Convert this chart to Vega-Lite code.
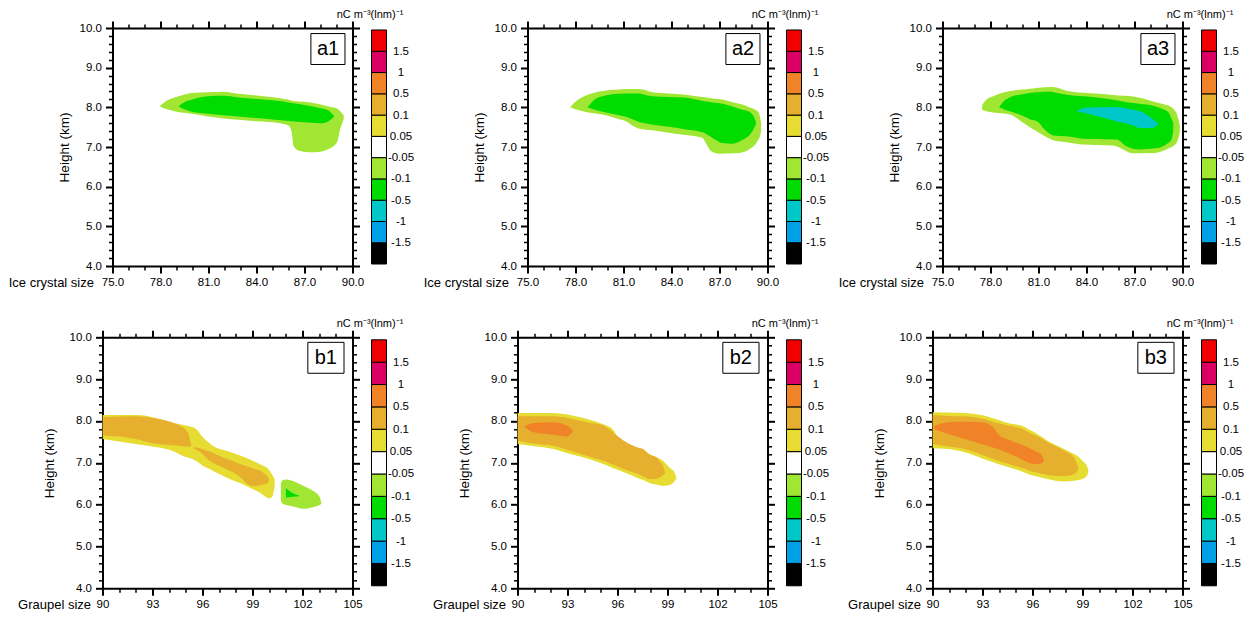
{
"$schema": "https://vega.github.io/schema/vega-lite/v6.json",
"background": "white",
"padding": {"left": 7.5, "top": 9, "right": 5, "bottom": 5},
"bounds": "flush",
"columns": 8,
"align": "each",
"spacing": {"row": 71.3, "column": 19},
"config": {
 "view": {"stroke": null},
 "font": "Liberation Sans",
 "axis": {"grid": false, "labelFont": "Liberation Sans", "titleFont": "Liberation Sans", "labelColor": "black", "titleColor": "black", "tickColor": "black", "domainColor": "black", "labelFontSize": 11.5, "titleFontSize": 13, "titleFontWeight": "normal", "labelFlush": false, "labelOverlap": false, "zindex": 1, "domainWidth": 2, "tickWidth": 2, "domainCap": "square"}
},
"datasets": {
 "bar": [
  {"c": "<-1.5", "lo": 0, "hi": 1},
  {"c": "-1.5~-1", "lo": 1, "hi": 2},
  {"c": "-1~-0.5", "lo": 2, "hi": 3},
  {"c": "-0.5~-0.1", "lo": 3, "hi": 4},
  {"c": "-0.1~-0.05", "lo": 4, "hi": 5},
  {"c": "-0.05~0.05", "lo": 5, "hi": 6},
  {"c": "0.05~0.1", "lo": 6, "hi": 7},
  {"c": "0.1~0.5", "lo": 7, "hi": 8},
  {"c": "0.5~1", "lo": 8, "hi": 9},
  {"c": "1~1.5", "lo": 9, "hi": 10},
  {"c": ">1.5", "lo": 10, "hi": 11}
 ],
 "ct": [
  {"p":"a1","r":1,"d":1,"c":"-0.1~-0.05","x":77.95,"lo":8.02,"hi":8.02},
  {"p":"a1","r":1,"d":1,"c":"-0.1~-0.05","x":78.4,"lo":7.95,"hi":8.17},
  {"p":"a1","r":1,"d":1,"c":"-0.1~-0.05","x":78.88,"lo":7.9,"hi":8.25},
  {"p":"a1","r":1,"d":1,"c":"-0.1~-0.05","x":79.3,"lo":7.87,"hi":8.3},
  {"p":"a1","r":1,"d":1,"c":"-0.1~-0.05","x":79.93,"lo":7.84,"hi":8.36},
  {"p":"a1","r":1,"d":1,"c":"-0.1~-0.05","x":81.0,"lo":7.77,"hi":8.38},
  {"p":"a1","r":1,"d":1,"c":"-0.1~-0.05","x":81.92,"lo":7.72,"hi":8.39},
  {"p":"a1","r":1,"d":1,"c":"-0.1~-0.05","x":82.86,"lo":7.69,"hi":8.34},
  {"p":"a1","r":1,"d":1,"c":"-0.1~-0.05","x":84.0,"lo":7.65,"hi":8.3},
  {"p":"a1","r":1,"d":1,"c":"-0.1~-0.05","x":85.15,"lo":7.62,"hi":8.25},
  {"p":"a1","r":1,"d":1,"c":"-0.1~-0.05","x":86.0,"lo":7.54,"hi":8.19},
  {"p":"a1","r":1,"d":1,"c":"-0.1~-0.05","x":86.2,"lo":7.37,"hi":8.17},
  {"p":"a1","r":1,"d":1,"c":"-0.1~-0.05","x":86.31,"lo":7.03,"hi":8.16},
  {"p":"a1","r":1,"d":1,"c":"-0.1~-0.05","x":86.62,"lo":6.91,"hi":8.15},
  {"p":"a1","r":1,"d":1,"c":"-0.1~-0.05","x":87.25,"lo":6.87,"hi":8.13},
  {"p":"a1","r":1,"d":1,"c":"-0.1~-0.05","x":87.66,"lo":6.87,"hi":8.1},
  {"p":"a1","r":1,"d":1,"c":"-0.1~-0.05","x":88.5,"lo":6.95,"hi":8.02},
  {"p":"a1","r":1,"d":1,"c":"-0.1~-0.05","x":89.03,"lo":7.12,"hi":7.97},
  {"p":"a1","r":1,"d":1,"c":"-0.1~-0.05","x":89.23,"lo":7.45,"hi":7.9},
  {"p":"a1","r":1,"d":1,"c":"-0.1~-0.05","x":89.45,"lo":7.7,"hi":7.8},
  {"p":"a1","r":2,"d":2,"c":"-0.5~-0.1","x":79.13,"lo":8.03,"hi":8.03},
  {"p":"a1","r":2,"d":2,"c":"-0.5~-0.1","x":79.5,"lo":7.95,"hi":8.13},
  {"p":"a1","r":2,"d":2,"c":"-0.5~-0.1","x":79.93,"lo":7.89,"hi":8.19},
  {"p":"a1","r":2,"d":2,"c":"-0.5~-0.1","x":80.97,"lo":7.84,"hi":8.28},
  {"p":"a1","r":2,"d":2,"c":"-0.5~-0.1","x":81.92,"lo":7.8,"hi":8.29},
  {"p":"a1","r":2,"d":2,"c":"-0.5~-0.1","x":82.86,"lo":7.77,"hi":8.25},
  {"p":"a1","r":2,"d":2,"c":"-0.5~-0.1","x":84.0,"lo":7.73,"hi":8.21},
  {"p":"a1","r":2,"d":2,"c":"-0.5~-0.1","x":85.15,"lo":7.69,"hi":8.17},
  {"p":"a1","r":2,"d":2,"c":"-0.5~-0.1","x":86.2,"lo":7.65,"hi":8.11},
  {"p":"a1","r":2,"d":2,"c":"-0.5~-0.1","x":87.25,"lo":7.62,"hi":8.04},
  {"p":"a1","r":2,"d":2,"c":"-0.5~-0.1","x":88.09,"lo":7.6,"hi":7.97},
  {"p":"a1","r":2,"d":2,"c":"-0.5~-0.1","x":88.5,"lo":7.65,"hi":7.92},
  {"p":"a1","r":2,"d":2,"c":"-0.5~-0.1","x":88.71,"lo":7.71,"hi":7.84},
  {"p":"a1","r":2,"d":2,"c":"-0.5~-0.1","x":88.85,"lo":7.76,"hi":7.79},
  {"p":"a2","r":1,"d":1,"c":"-0.1~-0.05","x":77.67,"lo":8.0,"hi":8.0},
  {"p":"a2","r":1,"d":1,"c":"-0.1~-0.05","x":78.0,"lo":7.95,"hi":8.14},
  {"p":"a2","r":1,"d":1,"c":"-0.1~-0.05","x":78.44,"lo":7.9,"hi":8.26},
  {"p":"a2","r":1,"d":1,"c":"-0.1~-0.05","x":79.0,"lo":7.86,"hi":8.35},
  {"p":"a2","r":1,"d":1,"c":"-0.1~-0.05","x":79.69,"lo":7.82,"hi":8.41},
  {"p":"a2","r":1,"d":1,"c":"-0.1~-0.05","x":80.73,"lo":7.7,"hi":8.45},
  {"p":"a2","r":1,"d":1,"c":"-0.1~-0.05","x":81.15,"lo":7.65,"hi":8.46},
  {"p":"a2","r":1,"d":1,"c":"-0.1~-0.05","x":81.6,"lo":7.53,"hi":8.46},
  {"p":"a2","r":1,"d":1,"c":"-0.1~-0.05","x":81.98,"lo":7.46,"hi":8.46},
  {"p":"a2","r":1,"d":1,"c":"-0.1~-0.05","x":82.81,"lo":7.42,"hi":8.38},
  {"p":"a2","r":1,"d":1,"c":"-0.1~-0.05","x":83.85,"lo":7.36,"hi":8.35},
  {"p":"a2","r":1,"d":1,"c":"-0.1~-0.05","x":84.9,"lo":7.3,"hi":8.32},
  {"p":"a2","r":1,"d":1,"c":"-0.1~-0.05","x":85.94,"lo":7.23,"hi":8.26},
  {"p":"a2","r":1,"d":1,"c":"-0.1~-0.05","x":86.15,"lo":7.1,"hi":8.25},
  {"p":"a2","r":1,"d":1,"c":"-0.1~-0.05","x":86.46,"lo":6.9,"hi":8.23},
  {"p":"a2","r":1,"d":1,"c":"-0.1~-0.05","x":86.98,"lo":6.83,"hi":8.21},
  {"p":"a2","r":1,"d":1,"c":"-0.1~-0.05","x":88.02,"lo":6.84,"hi":8.11},
  {"p":"a2","r":1,"d":1,"c":"-0.1~-0.05","x":88.44,"lo":6.87,"hi":8.07},
  {"p":"a2","r":1,"d":1,"c":"-0.1~-0.05","x":88.85,"lo":6.94,"hi":8.0},
  {"p":"a2","r":1,"d":1,"c":"-0.1~-0.05","x":89.38,"lo":7.15,"hi":7.9},
  {"p":"a2","r":1,"d":1,"c":"-0.1~-0.05","x":89.55,"lo":7.3,"hi":7.72},
  {"p":"a2","r":1,"d":1,"c":"-0.1~-0.05","x":89.6,"lo":7.4,"hi":7.6},
  {"p":"a2","r":2,"d":2,"c":"-0.5~-0.1","x":78.75,"lo":8.0,"hi":8.0},
  {"p":"a2","r":2,"d":2,"c":"-0.5~-0.1","x":79.2,"lo":7.94,"hi":8.2},
  {"p":"a2","r":2,"d":2,"c":"-0.5~-0.1","x":79.69,"lo":7.89,"hi":8.28},
  {"p":"a2","r":2,"d":2,"c":"-0.5~-0.1","x":80.73,"lo":7.8,"hi":8.34},
  {"p":"a2","r":2,"d":2,"c":"-0.5~-0.1","x":81.15,"lo":7.76,"hi":8.35},
  {"p":"a2","r":2,"d":2,"c":"-0.5~-0.1","x":81.98,"lo":7.63,"hi":8.35},
  {"p":"a2","r":2,"d":2,"c":"-0.5~-0.1","x":82.19,"lo":7.61,"hi":8.33},
  {"p":"a2","r":2,"d":2,"c":"-0.5~-0.1","x":82.81,"lo":7.56,"hi":8.28},
  {"p":"a2","r":2,"d":2,"c":"-0.5~-0.1","x":83.85,"lo":7.51,"hi":8.26},
  {"p":"a2","r":2,"d":2,"c":"-0.5~-0.1","x":84.9,"lo":7.44,"hi":8.24},
  {"p":"a2","r":2,"d":2,"c":"-0.5~-0.1","x":85.94,"lo":7.37,"hi":8.16},
  {"p":"a2","r":2,"d":2,"c":"-0.5~-0.1","x":86.56,"lo":7.23,"hi":8.12},
  {"p":"a2","r":2,"d":2,"c":"-0.5~-0.1","x":87.19,"lo":7.1,"hi":8.09},
  {"p":"a2","r":2,"d":2,"c":"-0.5~-0.1","x":87.81,"lo":7.08,"hi":8.02},
  {"p":"a2","r":2,"d":2,"c":"-0.5~-0.1","x":88.44,"lo":7.18,"hi":7.94},
  {"p":"a2","r":2,"d":2,"c":"-0.5~-0.1","x":88.65,"lo":7.23,"hi":7.92},
  {"p":"a2","r":2,"d":2,"c":"-0.5~-0.1","x":89.06,"lo":7.4,"hi":7.82},
  {"p":"a2","r":2,"d":2,"c":"-0.5~-0.1","x":89.27,"lo":7.57,"hi":7.65},
  {"p":"a3","r":1,"d":1,"c":"-0.1~-0.05","x":77.48,"lo":7.93,"hi":8.06},
  {"p":"a3","r":1,"d":1,"c":"-0.1~-0.05","x":77.75,"lo":7.9,"hi":8.2},
  {"p":"a3","r":1,"d":1,"c":"-0.1~-0.05","x":78.17,"lo":7.87,"hi":8.28},
  {"p":"a3","r":1,"d":1,"c":"-0.1~-0.05","x":79.21,"lo":7.82,"hi":8.41},
  {"p":"a3","r":1,"d":1,"c":"-0.1~-0.05","x":80.04,"lo":7.61,"hi":8.45},
  {"p":"a3","r":1,"d":1,"c":"-0.1~-0.05","x":80.46,"lo":7.5,"hi":8.47},
  {"p":"a3","r":1,"d":1,"c":"-0.1~-0.05","x":80.88,"lo":7.4,"hi":8.49},
  {"p":"a3","r":1,"d":1,"c":"-0.1~-0.05","x":81.81,"lo":7.19,"hi":8.51},
  {"p":"a3","r":1,"d":1,"c":"-0.1~-0.05","x":81.92,"lo":7.17,"hi":8.51},
  {"p":"a3","r":1,"d":1,"c":"-0.1~-0.05","x":82.75,"lo":7.12,"hi":8.42},
  {"p":"a3","r":1,"d":1,"c":"-0.1~-0.05","x":83.79,"lo":7.06,"hi":8.37},
  {"p":"a3","r":1,"d":1,"c":"-0.1~-0.05","x":84.63,"lo":7.05,"hi":8.35},
  {"p":"a3","r":1,"d":1,"c":"-0.1~-0.05","x":85.67,"lo":7.04,"hi":8.31},
  {"p":"a3","r":1,"d":1,"c":"-0.1~-0.05","x":86.29,"lo":6.94,"hi":8.29},
  {"p":"a3","r":1,"d":1,"c":"-0.1~-0.05","x":86.92,"lo":6.84,"hi":8.27},
  {"p":"a3","r":1,"d":1,"c":"-0.1~-0.05","x":88.17,"lo":6.85,"hi":8.15},
  {"p":"a3","r":1,"d":1,"c":"-0.1~-0.05","x":89.0,"lo":6.94,"hi":8.06},
  {"p":"a3","r":1,"d":1,"c":"-0.1~-0.05","x":89.21,"lo":6.98,"hi":8.03},
  {"p":"a3","r":1,"d":1,"c":"-0.1~-0.05","x":89.63,"lo":7.11,"hi":7.85},
  {"p":"a3","r":1,"d":1,"c":"-0.1~-0.05","x":89.83,"lo":7.36,"hi":7.55},
  {"p":"a3","r":2,"d":2,"c":"-0.5~-0.1","x":78.54,"lo":8.0,"hi":8.0},
  {"p":"a3","r":2,"d":2,"c":"-0.5~-0.1","x":78.9,"lo":7.94,"hi":8.18},
  {"p":"a3","r":2,"d":2,"c":"-0.5~-0.1","x":79.21,"lo":7.9,"hi":8.25},
  {"p":"a3","r":2,"d":2,"c":"-0.5~-0.1","x":80.04,"lo":7.78,"hi":8.33},
  {"p":"a3","r":2,"d":2,"c":"-0.5~-0.1","x":80.46,"lo":7.7,"hi":8.36},
  {"p":"a3","r":2,"d":2,"c":"-0.5~-0.1","x":80.98,"lo":7.63,"hi":8.38},
  {"p":"a3","r":2,"d":2,"c":"-0.5~-0.1","x":81.29,"lo":7.48,"hi":8.39},
  {"p":"a3","r":2,"d":2,"c":"-0.5~-0.1","x":81.81,"lo":7.31,"hi":8.39},
  {"p":"a3","r":2,"d":2,"c":"-0.5~-0.1","x":81.92,"lo":7.29,"hi":8.38},
  {"p":"a3","r":2,"d":2,"c":"-0.5~-0.1","x":82.75,"lo":7.27,"hi":8.32},
  {"p":"a3","r":2,"d":2,"c":"-0.5~-0.1","x":83.79,"lo":7.21,"hi":8.28},
  {"p":"a3","r":2,"d":2,"c":"-0.5~-0.1","x":84.63,"lo":7.2,"hi":8.25},
  {"p":"a3","r":2,"d":2,"c":"-0.5~-0.1","x":85.88,"lo":7.19,"hi":8.18},
  {"p":"a3","r":2,"d":2,"c":"-0.5~-0.1","x":86.5,"lo":7.02,"hi":8.13},
  {"p":"a3","r":2,"d":2,"c":"-0.5~-0.1","x":87.33,"lo":6.94,"hi":8.09},
  {"p":"a3","r":2,"d":2,"c":"-0.5~-0.1","x":88.17,"lo":6.96,"hi":8.04},
  {"p":"a3","r":2,"d":2,"c":"-0.5~-0.1","x":88.79,"lo":7.02,"hi":7.95},
  {"p":"a3","r":2,"d":2,"c":"-0.5~-0.1","x":89.1,"lo":7.1,"hi":7.88},
  {"p":"a3","r":2,"d":2,"c":"-0.5~-0.1","x":89.31,"lo":7.19,"hi":7.72},
  {"p":"a3","r":2,"d":2,"c":"-0.5~-0.1","x":89.42,"lo":7.4,"hi":7.61},
  {"p":"a3","r":3,"d":3,"c":"-1~-0.5","x":83.38,"lo":7.89,"hi":7.89},
  {"p":"a3","r":3,"d":3,"c":"-1~-0.5","x":83.9,"lo":7.86,"hi":7.99},
  {"p":"a3","r":3,"d":3,"c":"-1~-0.5","x":84.83,"lo":7.76,"hi":8.0},
  {"p":"a3","r":3,"d":3,"c":"-1~-0.5","x":85.67,"lo":7.67,"hi":8.01},
  {"p":"a3","r":3,"d":3,"c":"-1~-0.5","x":86.29,"lo":7.61,"hi":7.99},
  {"p":"a3","r":3,"d":3,"c":"-1~-0.5","x":86.92,"lo":7.54,"hi":7.94},
  {"p":"a3","r":3,"d":3,"c":"-1~-0.5","x":87.33,"lo":7.48,"hi":7.9},
  {"p":"a3","r":3,"d":3,"c":"-1~-0.5","x":87.75,"lo":7.48,"hi":7.82},
  {"p":"a3","r":3,"d":3,"c":"-1~-0.5","x":88.06,"lo":7.48,"hi":7.73},
  {"p":"a3","r":3,"d":3,"c":"-1~-0.5","x":88.48,"lo":7.57,"hi":7.59},
  {"p":"b1","r":1,"d":1,"c":"0.05~0.1","x":90.0,"lo":7.57,"hi":8.14},
  {"p":"b1","r":1,"d":1,"c":"0.05~0.1","x":92.0,"lo":7.45,"hi":8.14},
  {"p":"b1","r":1,"d":1,"c":"0.05~0.1","x":93.0,"lo":7.39,"hi":8.09},
  {"p":"b1","r":1,"d":1,"c":"0.05~0.1","x":94.01,"lo":7.31,"hi":7.97},
  {"p":"b1","r":1,"d":1,"c":"0.05~0.1","x":94.81,"lo":7.17,"hi":7.91},
  {"p":"b1","r":1,"d":1,"c":"0.05~0.1","x":95.01,"lo":7.14,"hi":7.89},
  {"p":"b1","r":1,"d":1,"c":"0.05~0.1","x":95.61,"lo":7.05,"hi":7.81},
  {"p":"b1","r":1,"d":1,"c":"0.05~0.1","x":96.02,"lo":6.93,"hi":7.61},
  {"p":"b1","r":1,"d":1,"c":"0.05~0.1","x":96.42,"lo":6.85,"hi":7.47},
  {"p":"b1","r":1,"d":1,"c":"0.05~0.1","x":96.62,"lo":6.81,"hi":7.41},
  {"p":"b1","r":1,"d":1,"c":"0.05~0.1","x":97.22,"lo":6.69,"hi":7.31},
  {"p":"b1","r":1,"d":1,"c":"0.05~0.1","x":97.42,"lo":6.65,"hi":7.29},
  {"p":"b1","r":1,"d":1,"c":"0.05~0.1","x":98.42,"lo":6.49,"hi":7.15},
  {"p":"b1","r":1,"d":1,"c":"0.05~0.1","x":99.22,"lo":6.33,"hi":7.01},
  {"p":"b1","r":1,"d":1,"c":"0.05~0.1","x":99.42,"lo":6.29,"hi":6.97},
  {"p":"b1","r":1,"d":1,"c":"0.05~0.1","x":100.03,"lo":6.15,"hi":6.81},
  {"p":"b1","r":1,"d":1,"c":"0.05~0.1","x":100.2,"lo":6.2,"hi":6.7},
  {"p":"b1","r":1,"d":1,"c":"0.05~0.1","x":100.33,"lo":6.45,"hi":6.6},
  {"p":"b1","r":2,"d":1,"c":"-0.1~-0.05","x":100.7,"lo":6.1,"hi":6.5},
  {"p":"b1","r":2,"d":1,"c":"-0.1~-0.05","x":100.8,"lo":6.03,"hi":6.58},
  {"p":"b1","r":2,"d":1,"c":"-0.1~-0.05","x":101.03,"lo":5.99,"hi":6.6},
  {"p":"b1","r":2,"d":1,"c":"-0.1~-0.05","x":101.5,"lo":5.95,"hi":6.55},
  {"p":"b1","r":2,"d":1,"c":"-0.1~-0.05","x":102.03,"lo":5.9,"hi":6.45},
  {"p":"b1","r":2,"d":1,"c":"-0.1~-0.05","x":102.63,"lo":5.94,"hi":6.33},
  {"p":"b1","r":2,"d":1,"c":"-0.1~-0.05","x":103.03,"lo":5.99,"hi":6.18},
  {"p":"b1","r":2,"d":1,"c":"-0.1~-0.05","x":103.13,"lo":6.02,"hi":6.04},
  {"p":"b1","r":3,"d":2,"c":"0.1~0.5","x":90.0,"lo":7.65,"hi":8.09},
  {"p":"b1","r":3,"d":2,"c":"0.1~0.5","x":92.0,"lo":7.57,"hi":8.11},
  {"p":"b1","r":3,"d":2,"c":"0.1~0.5","x":93.0,"lo":7.47,"hi":8.07},
  {"p":"b1","r":3,"d":2,"c":"0.1~0.5","x":93.81,"lo":7.43,"hi":8.01},
  {"p":"b1","r":3,"d":2,"c":"0.1~0.5","x":94.61,"lo":7.41,"hi":7.89},
  {"p":"b1","r":3,"d":2,"c":"0.1~0.5","x":95.11,"lo":7.39,"hi":7.73},
  {"p":"b1","r":3,"d":2,"c":"0.1~0.5","x":95.31,"lo":7.39,"hi":7.45},
  {"p":"b1","r":4,"d":2,"c":"0.1~0.5","x":95.45,"lo":7.35,"hi":7.37},
  {"p":"b1","r":4,"d":2,"c":"0.1~0.5","x":95.82,"lo":7.27,"hi":7.35},
  {"p":"b1","r":4,"d":2,"c":"0.1~0.5","x":96.42,"lo":7.05,"hi":7.27},
  {"p":"b1","r":4,"d":2,"c":"0.1~0.5","x":97.22,"lo":6.89,"hi":7.13},
  {"p":"b1","r":4,"d":2,"c":"0.1~0.5","x":98.02,"lo":6.73,"hi":7.01},
  {"p":"b1","r":4,"d":2,"c":"0.1~0.5","x":99.02,"lo":6.44,"hi":6.87},
  {"p":"b1","r":4,"d":2,"c":"0.1~0.5","x":99.63,"lo":6.48,"hi":6.77},
  {"p":"b1","r":4,"d":2,"c":"0.1~0.5","x":99.93,"lo":6.53,"hi":6.65},
  {"p":"b1","r":4,"d":2,"c":"0.1~0.5","x":99.99,"lo":6.58,"hi":6.6},
  {"p":"b1","r":5,"d":2,"c":"-0.5~-0.1","x":101.0,"lo":6.17,"hi":6.4},
  {"p":"b1","r":5,"d":2,"c":"-0.5~-0.1","x":101.4,"lo":6.19,"hi":6.28},
  {"p":"b1","r":5,"d":2,"c":"-0.5~-0.1","x":101.8,"lo":6.2,"hi":6.22},
  {"p":"b2","r":1,"d":1,"c":"0.05~0.1","x":90.0,"lo":7.45,"hi":8.19},
  {"p":"b2","r":1,"d":1,"c":"0.05~0.1","x":91.16,"lo":7.39,"hi":8.19},
  {"p":"b2","r":1,"d":1,"c":"0.05~0.1","x":92.15,"lo":7.33,"hi":8.19},
  {"p":"b2","r":1,"d":1,"c":"0.05~0.1","x":93.15,"lo":7.21,"hi":8.14},
  {"p":"b2","r":1,"d":1,"c":"0.05~0.1","x":94.14,"lo":7.11,"hi":8.05},
  {"p":"b2","r":1,"d":1,"c":"0.05~0.1","x":95.14,"lo":6.97,"hi":7.92},
  {"p":"b2","r":1,"d":1,"c":"0.05~0.1","x":95.34,"lo":6.94,"hi":7.89},
  {"p":"b2","r":1,"d":1,"c":"0.05~0.1","x":95.74,"lo":6.87,"hi":7.79},
  {"p":"b2","r":1,"d":1,"c":"0.05~0.1","x":96.04,"lo":6.83,"hi":7.61},
  {"p":"b2","r":1,"d":1,"c":"0.05~0.1","x":96.73,"lo":6.72,"hi":7.41},
  {"p":"b2","r":1,"d":1,"c":"0.05~0.1","x":97.13,"lo":6.65,"hi":7.35},
  {"p":"b2","r":1,"d":1,"c":"0.05~0.1","x":97.53,"lo":6.59,"hi":7.29},
  {"p":"b2","r":1,"d":1,"c":"0.05~0.1","x":97.93,"lo":6.52,"hi":7.2},
  {"p":"b2","r":1,"d":1,"c":"0.05~0.1","x":98.33,"lo":6.48,"hi":7.13},
  {"p":"b2","r":1,"d":1,"c":"0.05~0.1","x":98.73,"lo":6.45,"hi":7.05},
  {"p":"b2","r":1,"d":1,"c":"0.05~0.1","x":99.02,"lo":6.46,"hi":6.93},
  {"p":"b2","r":1,"d":1,"c":"0.05~0.1","x":99.22,"lo":6.49,"hi":6.85},
  {"p":"b2","r":1,"d":1,"c":"0.05~0.1","x":99.42,"lo":6.56,"hi":6.77},
  {"p":"b2","r":1,"d":1,"c":"0.05~0.1","x":99.52,"lo":6.62,"hi":6.66},
  {"p":"b2","r":2,"d":2,"c":"0.1~0.5","x":90.0,"lo":7.53,"hi":8.11},
  {"p":"b2","r":2,"d":2,"c":"0.1~0.5","x":91.16,"lo":7.45,"hi":8.11},
  {"p":"b2","r":2,"d":2,"c":"0.1~0.5","x":92.15,"lo":7.41,"hi":8.11},
  {"p":"b2","r":2,"d":2,"c":"0.1~0.5","x":93.15,"lo":7.29,"hi":8.06},
  {"p":"b2","r":2,"d":2,"c":"0.1~0.5","x":94.14,"lo":7.17,"hi":7.97},
  {"p":"b2","r":2,"d":2,"c":"0.1~0.5","x":95.14,"lo":7.05,"hi":7.89},
  {"p":"b2","r":2,"d":2,"c":"0.1~0.5","x":95.84,"lo":6.94,"hi":7.69},
  {"p":"b2","r":2,"d":2,"c":"0.1~0.5","x":96.14,"lo":6.89,"hi":7.6},
  {"p":"b2","r":2,"d":2,"c":"0.1~0.5","x":96.53,"lo":6.83,"hi":7.49},
  {"p":"b2","r":2,"d":2,"c":"0.1~0.5","x":97.13,"lo":6.75,"hi":7.38},
  {"p":"b2","r":2,"d":2,"c":"0.1~0.5","x":97.53,"lo":6.68,"hi":7.33},
  {"p":"b2","r":2,"d":2,"c":"0.1~0.5","x":97.93,"lo":6.61,"hi":7.2},
  {"p":"b2","r":2,"d":2,"c":"0.1~0.5","x":98.33,"lo":6.62,"hi":7.13},
  {"p":"b2","r":2,"d":2,"c":"0.1~0.5","x":98.53,"lo":6.65,"hi":7.03},
  {"p":"b2","r":2,"d":2,"c":"0.1~0.5","x":98.73,"lo":6.7,"hi":6.93},
  {"p":"b2","r":2,"d":2,"c":"0.1~0.5","x":98.85,"lo":6.75,"hi":6.77},
  {"p":"b2","r":3,"d":3,"c":"0.5~1","x":90.4,"lo":7.87,"hi":7.87},
  {"p":"b2","r":3,"d":3,"c":"0.5~1","x":90.96,"lo":7.73,"hi":7.95},
  {"p":"b2","r":3,"d":3,"c":"0.5~1","x":92.15,"lo":7.67,"hi":7.97},
  {"p":"b2","r":3,"d":3,"c":"0.5~1","x":92.95,"lo":7.63,"hi":7.89},
  {"p":"b2","r":3,"d":3,"c":"0.5~1","x":93.25,"lo":7.71,"hi":7.8},
  {"p":"b2","r":3,"d":3,"c":"0.5~1","x":93.31,"lo":7.74,"hi":7.77},
  {"p":"b3","r":1,"d":1,"c":"0.05~0.1","x":90.0,"lo":7.35,"hi":8.21},
  {"p":"b3","r":1,"d":1,"c":"0.05~0.1","x":90.95,"lo":7.33,"hi":8.2},
  {"p":"b3","r":1,"d":1,"c":"0.05~0.1","x":91.94,"lo":7.25,"hi":8.19},
  {"p":"b3","r":1,"d":1,"c":"0.05~0.1","x":92.94,"lo":7.11,"hi":8.14},
  {"p":"b3","r":1,"d":1,"c":"0.05~0.1","x":93.73,"lo":7.0,"hi":8.05},
  {"p":"b3","r":1,"d":1,"c":"0.05~0.1","x":93.93,"lo":6.97,"hi":8.03},
  {"p":"b3","r":1,"d":1,"c":"0.05~0.1","x":94.52,"lo":6.9,"hi":7.95},
  {"p":"b3","r":1,"d":1,"c":"0.05~0.1","x":94.92,"lo":6.85,"hi":7.92},
  {"p":"b3","r":1,"d":1,"c":"0.05~0.1","x":95.32,"lo":6.8,"hi":7.89},
  {"p":"b3","r":1,"d":1,"c":"0.05~0.1","x":95.91,"lo":6.71,"hi":7.77},
  {"p":"b3","r":1,"d":1,"c":"0.05~0.1","x":96.11,"lo":6.69,"hi":7.73},
  {"p":"b3","r":1,"d":1,"c":"0.05~0.1","x":96.9,"lo":6.61,"hi":7.53},
  {"p":"b3","r":1,"d":1,"c":"0.05~0.1","x":97.9,"lo":6.55,"hi":7.33},
  {"p":"b3","r":1,"d":1,"c":"0.05~0.1","x":98.49,"lo":6.57,"hi":7.21},
  {"p":"b3","r":1,"d":1,"c":"0.05~0.1","x":98.69,"lo":6.58,"hi":7.17},
  {"p":"b3","r":1,"d":1,"c":"0.05~0.1","x":98.99,"lo":6.61,"hi":7.05},
  {"p":"b3","r":1,"d":1,"c":"0.05~0.1","x":99.19,"lo":6.66,"hi":6.97},
  {"p":"b3","r":1,"d":1,"c":"0.05~0.1","x":99.29,"lo":6.71,"hi":6.9},
  {"p":"b3","r":1,"d":1,"c":"0.05~0.1","x":99.35,"lo":6.77,"hi":6.81},
  {"p":"b3","r":2,"d":2,"c":"0.1~0.5","x":90.0,"lo":7.45,"hi":8.14},
  {"p":"b3","r":2,"d":2,"c":"0.1~0.5","x":90.95,"lo":7.39,"hi":8.12},
  {"p":"b3","r":2,"d":2,"c":"0.1~0.5","x":91.94,"lo":7.33,"hi":8.11},
  {"p":"b3","r":2,"d":2,"c":"0.1~0.5","x":92.94,"lo":7.19,"hi":8.06},
  {"p":"b3","r":2,"d":2,"c":"0.1~0.5","x":93.73,"lo":7.08,"hi":7.97},
  {"p":"b3","r":2,"d":2,"c":"0.1~0.5","x":93.93,"lo":7.05,"hi":7.95},
  {"p":"b3","r":2,"d":2,"c":"0.1~0.5","x":94.52,"lo":6.98,"hi":7.89},
  {"p":"b3","r":2,"d":2,"c":"0.1~0.5","x":94.92,"lo":6.93,"hi":7.86},
  {"p":"b3","r":2,"d":2,"c":"0.1~0.5","x":95.32,"lo":6.88,"hi":7.82},
  {"p":"b3","r":2,"d":2,"c":"0.1~0.5","x":95.91,"lo":6.8,"hi":7.7},
  {"p":"b3","r":2,"d":2,"c":"0.1~0.5","x":96.11,"lo":6.78,"hi":7.67},
  {"p":"b3","r":2,"d":2,"c":"0.1~0.5","x":96.9,"lo":6.71,"hi":7.49},
  {"p":"b3","r":2,"d":2,"c":"0.1~0.5","x":97.9,"lo":6.68,"hi":7.29},
  {"p":"b3","r":2,"d":2,"c":"0.1~0.5","x":98.49,"lo":6.73,"hi":7.13},
  {"p":"b3","r":2,"d":2,"c":"0.1~0.5","x":98.69,"lo":6.8,"hi":6.95},
  {"p":"b3","r":2,"d":2,"c":"0.1~0.5","x":98.75,"lo":6.86,"hi":6.9},
  {"p":"b3","r":3,"d":3,"c":"0.5~1","x":90.1,"lo":7.8,"hi":7.88},
  {"p":"b3","r":3,"d":3,"c":"0.5~1","x":90.5,"lo":7.75,"hi":7.94},
  {"p":"b3","r":3,"d":3,"c":"0.5~1","x":90.95,"lo":7.69,"hi":7.97},
  {"p":"b3","r":3,"d":3,"c":"0.5~1","x":91.94,"lo":7.57,"hi":7.98},
  {"p":"b3","r":3,"d":3,"c":"0.5~1","x":92.94,"lo":7.45,"hi":7.97},
  {"p":"b3","r":3,"d":3,"c":"0.5~1","x":93.53,"lo":7.38,"hi":7.89},
  {"p":"b3","r":3,"d":3,"c":"0.5~1","x":93.93,"lo":7.33,"hi":7.69},
  {"p":"b3","r":3,"d":3,"c":"0.5~1","x":94.72,"lo":7.2,"hi":7.53},
  {"p":"b3","r":3,"d":3,"c":"0.5~1","x":94.92,"lo":7.17,"hi":7.5},
  {"p":"b3","r":3,"d":3,"c":"0.5~1","x":95.71,"lo":7.01,"hi":7.37},
  {"p":"b3","r":3,"d":3,"c":"0.5~1","x":96.31,"lo":6.97,"hi":7.25},
  {"p":"b3","r":3,"d":3,"c":"0.5~1","x":96.51,"lo":6.99,"hi":7.21},
  {"p":"b3","r":3,"d":3,"c":"0.5~1","x":96.67,"lo":7.04,"hi":7.08}
 ]
},
"concat": [
 {"width": 250, "height": 238, "resolve": {"axis": {"x": "independent", "y": "independent"}}, "layer": [
  {"data": {"name": "ct"}, "transform": [{"filter": "datum.p === 'a1' && datum.d === 1"}], "mark": {"type": "area", "interpolate": "monotone", "clip": true},
   "encoding": {
    "x": {"field": "x", "type": "quantitative", "scale": {"domain": [75, 90], "range": [10, 250], "nice": false, "zero": false}, "axis": {"orient": "bottom", "values": [75, 78, 81, 84, 87, 90], "format": ".1f", "tickSize": 7, "labelPadding": 3, "title": "Ice crystal size", "titleX": -9, "titleY": 20, "titleAlign": "right", "titleBaseline": "alphabetic", "titleAngle": 0}},
    "y": {"field": "lo", "type": "quantitative", "stack": null, "scale": {"domain": [4, 10], "nice": false, "zero": false}, "axis": {"orient": "left", "offset": -10, "values": [4, 5, 6, 7, 8, 9, 10], "format": ".1f", "tickSize": 7, "labelPadding": 4, "title": "Height (km)", "titleFontSize": 13.5, "titleX": -48, "titleY": 119, "titleAngle": -90, "titleAlign": "center", "titleBaseline": "middle"}},
    "y2": {"field": "hi"},
    "color": {"field": "c", "type": "nominal", "legend": null, "scale": {"domain": ["<-1.5","-1.5~-1","-1~-0.5","-0.5~-0.1","-0.1~-0.05","-0.05~0.05","0.05~0.1","0.1~0.5","0.5~1","1~1.5",">1.5"], "range": ["#000000","#00A0E6","#00C8C8","#00DC00","#A0E632","#FFFFFF","#E6DC32","#E6AF2D","#F08228","#DC0064","#F00000"]}},
    "detail": {"field": "r"}
   }},
  {"data": {"name": "ct"}, "transform": [{"filter": "datum.p === 'a1' && datum.d === 2"}], "mark": {"type": "area", "interpolate": "monotone", "clip": true},
   "encoding": {
    "x": {"field": "x", "type": "quantitative", "scale": {"domain": [75, 90], "range": [10, 250], "nice": false, "zero": false}, "axis": {"orient": "bottom", "values": [76, 77, 79, 80, 82, 83, 85, 86, 88, 89], "tickSize": 4, "tickWidth": 1.5, "labels": false, "domain": false, "title": null}},
    "y": {"field": "lo", "type": "quantitative", "stack": null, "scale": {"domain": [4, 10], "nice": false, "zero": false}, "axis": {"orient": "left", "offset": -10, "values": [4.2,4.4,4.6,4.8,5.2,5.4,5.6,5.8,6.2,6.4,6.6,6.8,7.2,7.4,7.6,7.8,8.2,8.4,8.6,8.8,9.2,9.4,9.6,9.8], "tickSize": 4, "tickWidth": 1.5, "labels": false, "domain": false, "title": null}},
    "y2": {"field": "hi"},
    "color": {"field": "c", "type": "nominal", "legend": null, "scale": {"domain": ["<-1.5","-1.5~-1","-1~-0.5","-0.5~-0.1","-0.1~-0.05","-0.05~0.05","0.05~0.1","0.1~0.5","0.5~1","1~1.5",">1.5"], "range": ["#000000","#00A0E6","#00C8C8","#00DC00","#A0E632","#FFFFFF","#E6DC32","#E6AF2D","#F08228","#DC0064","#F00000"]}},
    "detail": {"field": "r"}
   }},
  {"data": {"name": "ct"}, "transform": [{"filter": "datum.p === 'a1' && datum.d === 3"}], "mark": {"type": "area", "interpolate": "monotone", "clip": true},
   "encoding": {
    "x": {"field": "x", "type": "quantitative", "scale": {"domain": [75, 90], "range": [10, 250], "nice": false, "zero": false}, "axis": {"orient": "top", "values": [75, 78, 81, 84, 87, 90], "tickSize": 7, "labels": false, "title": null}},
    "y": {"field": "lo", "type": "quantitative", "stack": null, "scale": {"domain": [4, 10], "nice": false, "zero": false}, "axis": {"orient": "right", "values": [4, 5, 6, 7, 8, 9, 10], "tickSize": 7, "labels": false, "title": null}},
    "y2": {"field": "hi"},
    "color": {"field": "c", "type": "nominal", "legend": null, "scale": {"domain": ["<-1.5","-1.5~-1","-1~-0.5","-0.5~-0.1","-0.1~-0.05","-0.05~0.05","0.05~0.1","0.1~0.5","0.5~1","1~1.5",">1.5"], "range": ["#000000","#00A0E6","#00C8C8","#00DC00","#A0E632","#FFFFFF","#E6DC32","#E6AF2D","#F08228","#DC0064","#F00000"]}},
    "detail": {"field": "r"}
   }},
  {"data": {"values": [{"lab": "a1"}]}, "mark": {"type": "rect", "fill": "white", "stroke": "black", "strokeWidth": 1},
   "encoding": {
    "x": {"datum": 87.4, "type": "quantitative", "scale": {"domain": [75, 90], "range": [10, 250], "nice": false, "zero": false}, "axis": {"orient": "top", "values": [76, 77, 79, 80, 82, 83, 85, 86, 88, 89], "tickSize": 4, "tickWidth": 1.5, "labels": false, "domain": false, "title": null}},
    "x2": {"datum": 89.53},
    "y": {"datum": 9.08, "type": "quantitative", "scale": {"domain": [4, 10], "nice": false, "zero": false}, "axis": {"orient": "right", "values": [4.2,4.4,4.6,4.8,5.2,5.4,5.6,5.8,6.2,6.4,6.6,6.8,7.2,7.4,7.6,7.8,8.2,8.4,8.6,8.8,9.2,9.4,9.6,9.8], "tickSize": 4, "tickWidth": 1.5, "labels": false, "domain": false, "title": null}},
    "y2": {"datum": 9.86}
   }},
  {"data": {"values": [{"lab": "a1"}]}, "mark": {"type": "text", "fontSize": 20, "font": "Liberation Sans", "color": "black", "align": "center", "baseline": "middle"},
   "encoding": {
    "x": {"datum": 88.47, "type": "quantitative", "scale": {"domain": [75, 90], "range": [10, 250], "nice": false, "zero": false}, "axis": null},
    "y": {"datum": 9.47, "type": "quantitative", "scale": {"domain": [4, 10], "nice": false, "zero": false}, "axis": null},
    "text": {"field": "lab"}
   }}
 ]},
 {"width": 15, "height": 238, "data": {"name": "bar"},
  "title": {"text": "nC m⁻³(lnm)⁻¹", "fontSize": 11, "fontWeight": "normal", "font": "Liberation Sans", "anchor": "middle", "frame": "group", "dx": -9, "offset": 8, "color": "black"},
  "mark": {"type": "rect", "stroke": "black", "strokeWidth": 1},
  "encoding": {
   "y": {"field": "lo", "type": "quantitative", "scale": {"domain": [-0.094, 11.094], "nice": false, "zero": false}, "axis": {"orient": "right", "values": [1,2,3,4,5,6,7,8,9,10], "labelExpr": "['','-1.5','-1','-0.5','-0.1','-0.05','0.05','0.1','0.5','1','1.5'][datum.value]", "ticks": false, "tickSize": 0, "domain": false, "labelAlign": "center", "labelPadding": 14, "title": null}},
   "y2": {"field": "hi"},
   "color": {"field": "c", "type": "nominal", "legend": null, "scale": {"domain": ["<-1.5","-1.5~-1","-1~-0.5","-0.5~-0.1","-0.1~-0.05","-0.05~0.05","0.05~0.1","0.1~0.5","0.5~1","1~1.5",">1.5"], "range": ["#000000","#00A0E6","#00C8C8","#00DC00","#A0E632","#FFFFFF","#E6DC32","#E6AF2D","#F08228","#DC0064","#F00000"]}}
  }},
 {"width": 92.4, "height": 1, "data": {"values": [{"s": 0}]}, "mark": {"type": "rect", "opacity": 0}},
 {"width": 250, "height": 238, "resolve": {"axis": {"x": "independent", "y": "independent"}}, "layer": [
  {"data": {"name": "ct"}, "transform": [{"filter": "datum.p === 'a2' && datum.d === 1"}], "mark": {"type": "area", "interpolate": "monotone", "clip": true},
   "encoding": {
    "x": {"field": "x", "type": "quantitative", "scale": {"domain": [75, 90], "range": [10, 250], "nice": false, "zero": false}, "axis": {"orient": "bottom", "values": [75, 78, 81, 84, 87, 90], "format": ".1f", "tickSize": 7, "labelPadding": 3, "title": "Ice crystal size", "titleX": -9, "titleY": 20, "titleAlign": "right", "titleBaseline": "alphabetic", "titleAngle": 0}},
    "y": {"field": "lo", "type": "quantitative", "stack": null, "scale": {"domain": [4, 10], "nice": false, "zero": false}, "axis": {"orient": "left", "offset": -10, "values": [4, 5, 6, 7, 8, 9, 10], "format": ".1f", "tickSize": 7, "labelPadding": 4, "title": "Height (km)", "titleFontSize": 13.5, "titleX": -48, "titleY": 119, "titleAngle": -90, "titleAlign": "center", "titleBaseline": "middle"}},
    "y2": {"field": "hi"},
    "color": {"field": "c", "type": "nominal", "legend": null, "scale": {"domain": ["<-1.5","-1.5~-1","-1~-0.5","-0.5~-0.1","-0.1~-0.05","-0.05~0.05","0.05~0.1","0.1~0.5","0.5~1","1~1.5",">1.5"], "range": ["#000000","#00A0E6","#00C8C8","#00DC00","#A0E632","#FFFFFF","#E6DC32","#E6AF2D","#F08228","#DC0064","#F00000"]}},
    "detail": {"field": "r"}
   }},
  {"data": {"name": "ct"}, "transform": [{"filter": "datum.p === 'a2' && datum.d === 2"}], "mark": {"type": "area", "interpolate": "monotone", "clip": true},
   "encoding": {
    "x": {"field": "x", "type": "quantitative", "scale": {"domain": [75, 90], "range": [10, 250], "nice": false, "zero": false}, "axis": {"orient": "bottom", "values": [76, 77, 79, 80, 82, 83, 85, 86, 88, 89], "tickSize": 4, "tickWidth": 1.5, "labels": false, "domain": false, "title": null}},
    "y": {"field": "lo", "type": "quantitative", "stack": null, "scale": {"domain": [4, 10], "nice": false, "zero": false}, "axis": {"orient": "left", "offset": -10, "values": [4.2,4.4,4.6,4.8,5.2,5.4,5.6,5.8,6.2,6.4,6.6,6.8,7.2,7.4,7.6,7.8,8.2,8.4,8.6,8.8,9.2,9.4,9.6,9.8], "tickSize": 4, "tickWidth": 1.5, "labels": false, "domain": false, "title": null}},
    "y2": {"field": "hi"},
    "color": {"field": "c", "type": "nominal", "legend": null, "scale": {"domain": ["<-1.5","-1.5~-1","-1~-0.5","-0.5~-0.1","-0.1~-0.05","-0.05~0.05","0.05~0.1","0.1~0.5","0.5~1","1~1.5",">1.5"], "range": ["#000000","#00A0E6","#00C8C8","#00DC00","#A0E632","#FFFFFF","#E6DC32","#E6AF2D","#F08228","#DC0064","#F00000"]}},
    "detail": {"field": "r"}
   }},
  {"data": {"name": "ct"}, "transform": [{"filter": "datum.p === 'a2' && datum.d === 3"}], "mark": {"type": "area", "interpolate": "monotone", "clip": true},
   "encoding": {
    "x": {"field": "x", "type": "quantitative", "scale": {"domain": [75, 90], "range": [10, 250], "nice": false, "zero": false}, "axis": {"orient": "top", "values": [75, 78, 81, 84, 87, 90], "tickSize": 7, "labels": false, "title": null}},
    "y": {"field": "lo", "type": "quantitative", "stack": null, "scale": {"domain": [4, 10], "nice": false, "zero": false}, "axis": {"orient": "right", "values": [4, 5, 6, 7, 8, 9, 10], "tickSize": 7, "labels": false, "title": null}},
    "y2": {"field": "hi"},
    "color": {"field": "c", "type": "nominal", "legend": null, "scale": {"domain": ["<-1.5","-1.5~-1","-1~-0.5","-0.5~-0.1","-0.1~-0.05","-0.05~0.05","0.05~0.1","0.1~0.5","0.5~1","1~1.5",">1.5"], "range": ["#000000","#00A0E6","#00C8C8","#00DC00","#A0E632","#FFFFFF","#E6DC32","#E6AF2D","#F08228","#DC0064","#F00000"]}},
    "detail": {"field": "r"}
   }},
  {"data": {"values": [{"lab": "a2"}]}, "mark": {"type": "rect", "fill": "white", "stroke": "black", "strokeWidth": 1},
   "encoding": {
    "x": {"datum": 87.4, "type": "quantitative", "scale": {"domain": [75, 90], "range": [10, 250], "nice": false, "zero": false}, "axis": {"orient": "top", "values": [76, 77, 79, 80, 82, 83, 85, 86, 88, 89], "tickSize": 4, "tickWidth": 1.5, "labels": false, "domain": false, "title": null}},
    "x2": {"datum": 89.53},
    "y": {"datum": 9.08, "type": "quantitative", "scale": {"domain": [4, 10], "nice": false, "zero": false}, "axis": {"orient": "right", "values": [4.2,4.4,4.6,4.8,5.2,5.4,5.6,5.8,6.2,6.4,6.6,6.8,7.2,7.4,7.6,7.8,8.2,8.4,8.6,8.8,9.2,9.4,9.6,9.8], "tickSize": 4, "tickWidth": 1.5, "labels": false, "domain": false, "title": null}},
    "y2": {"datum": 9.86}
   }},
  {"data": {"values": [{"lab": "a2"}]}, "mark": {"type": "text", "fontSize": 20, "font": "Liberation Sans", "color": "black", "align": "center", "baseline": "middle"},
   "encoding": {
    "x": {"datum": 88.47, "type": "quantitative", "scale": {"domain": [75, 90], "range": [10, 250], "nice": false, "zero": false}, "axis": null},
    "y": {"datum": 9.47, "type": "quantitative", "scale": {"domain": [4, 10], "nice": false, "zero": false}, "axis": null},
    "text": {"field": "lab"}
   }}
 ]},
 {"width": 15, "height": 238, "data": {"name": "bar"},
  "title": {"text": "nC m⁻³(lnm)⁻¹", "fontSize": 11, "fontWeight": "normal", "font": "Liberation Sans", "anchor": "middle", "frame": "group", "dx": -9, "offset": 8, "color": "black"},
  "mark": {"type": "rect", "stroke": "black", "strokeWidth": 1},
  "encoding": {
   "y": {"field": "lo", "type": "quantitative", "scale": {"domain": [-0.094, 11.094], "nice": false, "zero": false}, "axis": {"orient": "right", "values": [1,2,3,4,5,6,7,8,9,10], "labelExpr": "['','-1.5','-1','-0.5','-0.1','-0.05','0.05','0.1','0.5','1','1.5'][datum.value]", "ticks": false, "tickSize": 0, "domain": false, "labelAlign": "center", "labelPadding": 14, "title": null}},
   "y2": {"field": "hi"},
   "color": {"field": "c", "type": "nominal", "legend": null, "scale": {"domain": ["<-1.5","-1.5~-1","-1~-0.5","-0.5~-0.1","-0.1~-0.05","-0.05~0.05","0.05~0.1","0.1~0.5","0.5~1","1~1.5",">1.5"], "range": ["#000000","#00A0E6","#00C8C8","#00DC00","#A0E632","#FFFFFF","#E6DC32","#E6AF2D","#F08228","#DC0064","#F00000"]}}
  }},
 {"width": 92.4, "height": 1, "data": {"values": [{"s": 0}]}, "mark": {"type": "rect", "opacity": 0}},
 {"width": 250, "height": 238, "resolve": {"axis": {"x": "independent", "y": "independent"}}, "layer": [
  {"data": {"name": "ct"}, "transform": [{"filter": "datum.p === 'a3' && datum.d === 1"}], "mark": {"type": "area", "interpolate": "monotone", "clip": true},
   "encoding": {
    "x": {"field": "x", "type": "quantitative", "scale": {"domain": [75, 90], "range": [10, 250], "nice": false, "zero": false}, "axis": {"orient": "bottom", "values": [75, 78, 81, 84, 87, 90], "format": ".1f", "tickSize": 7, "labelPadding": 3, "title": "Ice crystal size", "titleX": -9, "titleY": 20, "titleAlign": "right", "titleBaseline": "alphabetic", "titleAngle": 0}},
    "y": {"field": "lo", "type": "quantitative", "stack": null, "scale": {"domain": [4, 10], "nice": false, "zero": false}, "axis": {"orient": "left", "offset": -10, "values": [4, 5, 6, 7, 8, 9, 10], "format": ".1f", "tickSize": 7, "labelPadding": 4, "title": "Height (km)", "titleFontSize": 13.5, "titleX": -48, "titleY": 119, "titleAngle": -90, "titleAlign": "center", "titleBaseline": "middle"}},
    "y2": {"field": "hi"},
    "color": {"field": "c", "type": "nominal", "legend": null, "scale": {"domain": ["<-1.5","-1.5~-1","-1~-0.5","-0.5~-0.1","-0.1~-0.05","-0.05~0.05","0.05~0.1","0.1~0.5","0.5~1","1~1.5",">1.5"], "range": ["#000000","#00A0E6","#00C8C8","#00DC00","#A0E632","#FFFFFF","#E6DC32","#E6AF2D","#F08228","#DC0064","#F00000"]}},
    "detail": {"field": "r"}
   }},
  {"data": {"name": "ct"}, "transform": [{"filter": "datum.p === 'a3' && datum.d === 2"}], "mark": {"type": "area", "interpolate": "monotone", "clip": true},
   "encoding": {
    "x": {"field": "x", "type": "quantitative", "scale": {"domain": [75, 90], "range": [10, 250], "nice": false, "zero": false}, "axis": {"orient": "bottom", "values": [76, 77, 79, 80, 82, 83, 85, 86, 88, 89], "tickSize": 4, "tickWidth": 1.5, "labels": false, "domain": false, "title": null}},
    "y": {"field": "lo", "type": "quantitative", "stack": null, "scale": {"domain": [4, 10], "nice": false, "zero": false}, "axis": {"orient": "left", "offset": -10, "values": [4.2,4.4,4.6,4.8,5.2,5.4,5.6,5.8,6.2,6.4,6.6,6.8,7.2,7.4,7.6,7.8,8.2,8.4,8.6,8.8,9.2,9.4,9.6,9.8], "tickSize": 4, "tickWidth": 1.5, "labels": false, "domain": false, "title": null}},
    "y2": {"field": "hi"},
    "color": {"field": "c", "type": "nominal", "legend": null, "scale": {"domain": ["<-1.5","-1.5~-1","-1~-0.5","-0.5~-0.1","-0.1~-0.05","-0.05~0.05","0.05~0.1","0.1~0.5","0.5~1","1~1.5",">1.5"], "range": ["#000000","#00A0E6","#00C8C8","#00DC00","#A0E632","#FFFFFF","#E6DC32","#E6AF2D","#F08228","#DC0064","#F00000"]}},
    "detail": {"field": "r"}
   }},
  {"data": {"name": "ct"}, "transform": [{"filter": "datum.p === 'a3' && datum.d === 3"}], "mark": {"type": "area", "interpolate": "monotone", "clip": true},
   "encoding": {
    "x": {"field": "x", "type": "quantitative", "scale": {"domain": [75, 90], "range": [10, 250], "nice": false, "zero": false}, "axis": {"orient": "top", "values": [75, 78, 81, 84, 87, 90], "tickSize": 7, "labels": false, "title": null}},
    "y": {"field": "lo", "type": "quantitative", "stack": null, "scale": {"domain": [4, 10], "nice": false, "zero": false}, "axis": {"orient": "right", "values": [4, 5, 6, 7, 8, 9, 10], "tickSize": 7, "labels": false, "title": null}},
    "y2": {"field": "hi"},
    "color": {"field": "c", "type": "nominal", "legend": null, "scale": {"domain": ["<-1.5","-1.5~-1","-1~-0.5","-0.5~-0.1","-0.1~-0.05","-0.05~0.05","0.05~0.1","0.1~0.5","0.5~1","1~1.5",">1.5"], "range": ["#000000","#00A0E6","#00C8C8","#00DC00","#A0E632","#FFFFFF","#E6DC32","#E6AF2D","#F08228","#DC0064","#F00000"]}},
    "detail": {"field": "r"}
   }},
  {"data": {"values": [{"lab": "a3"}]}, "mark": {"type": "rect", "fill": "white", "stroke": "black", "strokeWidth": 1},
   "encoding": {
    "x": {"datum": 87.4, "type": "quantitative", "scale": {"domain": [75, 90], "range": [10, 250], "nice": false, "zero": false}, "axis": {"orient": "top", "values": [76, 77, 79, 80, 82, 83, 85, 86, 88, 89], "tickSize": 4, "tickWidth": 1.5, "labels": false, "domain": false, "title": null}},
    "x2": {"datum": 89.53},
    "y": {"datum": 9.08, "type": "quantitative", "scale": {"domain": [4, 10], "nice": false, "zero": false}, "axis": {"orient": "right", "values": [4.2,4.4,4.6,4.8,5.2,5.4,5.6,5.8,6.2,6.4,6.6,6.8,7.2,7.4,7.6,7.8,8.2,8.4,8.6,8.8,9.2,9.4,9.6,9.8], "tickSize": 4, "tickWidth": 1.5, "labels": false, "domain": false, "title": null}},
    "y2": {"datum": 9.86}
   }},
  {"data": {"values": [{"lab": "a3"}]}, "mark": {"type": "text", "fontSize": 20, "font": "Liberation Sans", "color": "black", "align": "center", "baseline": "middle"},
   "encoding": {
    "x": {"datum": 88.47, "type": "quantitative", "scale": {"domain": [75, 90], "range": [10, 250], "nice": false, "zero": false}, "axis": null},
    "y": {"datum": 9.47, "type": "quantitative", "scale": {"domain": [4, 10], "nice": false, "zero": false}, "axis": null},
    "text": {"field": "lab"}
   }}
 ]},
 {"width": 15, "height": 238, "data": {"name": "bar"},
  "title": {"text": "nC m⁻³(lnm)⁻¹", "fontSize": 11, "fontWeight": "normal", "font": "Liberation Sans", "anchor": "middle", "frame": "group", "dx": -9, "offset": 8, "color": "black"},
  "mark": {"type": "rect", "stroke": "black", "strokeWidth": 1},
  "encoding": {
   "y": {"field": "lo", "type": "quantitative", "scale": {"domain": [-0.094, 11.094], "nice": false, "zero": false}, "axis": {"orient": "right", "values": [1,2,3,4,5,6,7,8,9,10], "labelExpr": "['','-1.5','-1','-0.5','-0.1','-0.05','0.05','0.1','0.5','1','1.5'][datum.value]", "ticks": false, "tickSize": 0, "domain": false, "labelAlign": "center", "labelPadding": 14, "title": null}},
   "y2": {"field": "hi"},
   "color": {"field": "c", "type": "nominal", "legend": null, "scale": {"domain": ["<-1.5","-1.5~-1","-1~-0.5","-0.5~-0.1","-0.1~-0.05","-0.05~0.05","0.05~0.1","0.1~0.5","0.5~1","1~1.5",">1.5"], "range": ["#000000","#00A0E6","#00C8C8","#00DC00","#A0E632","#FFFFFF","#E6DC32","#E6AF2D","#F08228","#DC0064","#F00000"]}}
  }},
 {"width": 250, "height": 251, "resolve": {"axis": {"x": "independent", "y": "independent"}}, "layer": [
  {"data": {"name": "ct"}, "transform": [{"filter": "datum.p === 'b1' && datum.d === 1"}], "mark": {"type": "area", "interpolate": "monotone", "clip": true},
   "encoding": {
    "x": {"field": "x", "type": "quantitative", "scale": {"domain": [90, 105], "nice": false, "zero": false}, "axis": {"orient": "bottom", "values": [90, 93, 96, 99, 102, 105], "format": "d", "tickSize": 7, "labelPadding": 3, "title": "Graupel size", "titleX": -12, "titleY": 20, "titleAlign": "right", "titleBaseline": "alphabetic", "titleAngle": 0}},
    "y": {"field": "lo", "type": "quantitative", "stack": null, "scale": {"domain": [4, 10], "nice": false, "zero": false}, "axis": {"orient": "left", "values": [4, 5, 6, 7, 8, 9, 10], "format": ".1f", "tickSize": 7, "labelPadding": 4, "title": "Height (km)", "titleFontSize": 13.5, "titleX": -53, "titleY": 125.5, "titleAngle": -90, "titleAlign": "center", "titleBaseline": "middle"}},
    "y2": {"field": "hi"},
    "color": {"field": "c", "type": "nominal", "legend": null, "scale": {"domain": ["<-1.5","-1.5~-1","-1~-0.5","-0.5~-0.1","-0.1~-0.05","-0.05~0.05","0.05~0.1","0.1~0.5","0.5~1","1~1.5",">1.5"], "range": ["#000000","#00A0E6","#00C8C8","#00DC00","#A0E632","#FFFFFF","#E6DC32","#E6AF2D","#F08228","#DC0064","#F00000"]}},
    "detail": {"field": "r"}
   }},
  {"data": {"name": "ct"}, "transform": [{"filter": "datum.p === 'b1' && datum.d === 2"}], "mark": {"type": "area", "interpolate": "monotone", "clip": true},
   "encoding": {
    "x": {"field": "x", "type": "quantitative", "scale": {"domain": [90, 105], "nice": false, "zero": false}, "axis": {"orient": "bottom", "values": [91, 92, 94, 95, 97, 98, 100, 101, 103, 104], "tickSize": 4, "tickWidth": 1.5, "labels": false, "domain": false, "title": null}},
    "y": {"field": "lo", "type": "quantitative", "stack": null, "scale": {"domain": [4, 10], "nice": false, "zero": false}, "axis": {"orient": "left", "values": [4.2,4.4,4.6,4.8,5.2,5.4,5.6,5.8,6.2,6.4,6.6,6.8,7.2,7.4,7.6,7.8,8.2,8.4,8.6,8.8,9.2,9.4,9.6,9.8], "tickSize": 4, "tickWidth": 1.5, "labels": false, "domain": false, "title": null}},
    "y2": {"field": "hi"},
    "color": {"field": "c", "type": "nominal", "legend": null, "scale": {"domain": ["<-1.5","-1.5~-1","-1~-0.5","-0.5~-0.1","-0.1~-0.05","-0.05~0.05","0.05~0.1","0.1~0.5","0.5~1","1~1.5",">1.5"], "range": ["#000000","#00A0E6","#00C8C8","#00DC00","#A0E632","#FFFFFF","#E6DC32","#E6AF2D","#F08228","#DC0064","#F00000"]}},
    "detail": {"field": "r"}
   }},
  {"data": {"name": "ct"}, "transform": [{"filter": "datum.p === 'b1' && datum.d === 3"}], "mark": {"type": "area", "interpolate": "monotone", "clip": true},
   "encoding": {
    "x": {"field": "x", "type": "quantitative", "scale": {"domain": [90, 105], "nice": false, "zero": false}, "axis": {"orient": "top", "values": [90, 93, 96, 99, 102, 105], "tickSize": 7, "labels": false, "title": null}},
    "y": {"field": "lo", "type": "quantitative", "stack": null, "scale": {"domain": [4, 10], "nice": false, "zero": false}, "axis": {"orient": "right", "values": [4, 5, 6, 7, 8, 9, 10], "tickSize": 7, "labels": false, "title": null}},
    "y2": {"field": "hi"},
    "color": {"field": "c", "type": "nominal", "legend": null, "scale": {"domain": ["<-1.5","-1.5~-1","-1~-0.5","-0.5~-0.1","-0.1~-0.05","-0.05~0.05","0.05~0.1","0.1~0.5","0.5~1","1~1.5",">1.5"], "range": ["#000000","#00A0E6","#00C8C8","#00DC00","#A0E632","#FFFFFF","#E6DC32","#E6AF2D","#F08228","#DC0064","#F00000"]}},
    "detail": {"field": "r"}
   }},
  {"data": {"values": [{"lab": "b1"}]}, "mark": {"type": "rect", "fill": "white", "stroke": "black", "strokeWidth": 1},
   "encoding": {
    "x": {"datum": 102.32, "type": "quantitative", "scale": {"domain": [90, 105], "nice": false, "zero": false}, "axis": {"orient": "top", "values": [91, 92, 94, 95, 97, 98, 100, 101, 103, 104], "tickSize": 4, "tickWidth": 1.5, "labels": false, "domain": false, "title": null}},
    "x2": {"datum": 104.49},
    "y": {"datum": 9.14, "type": "quantitative", "scale": {"domain": [4, 10], "nice": false, "zero": false}, "axis": {"orient": "right", "values": [4.2,4.4,4.6,4.8,5.2,5.4,5.6,5.8,6.2,6.4,6.6,6.8,7.2,7.4,7.6,7.8,8.2,8.4,8.6,8.8,9.2,9.4,9.6,9.8], "tickSize": 4, "tickWidth": 1.5, "labels": false, "domain": false, "title": null}},
    "y2": {"datum": 9.88}
   }},
  {"data": {"values": [{"lab": "b1"}]}, "mark": {"type": "text", "fontSize": 20, "font": "Liberation Sans", "color": "black", "align": "center", "baseline": "middle"},
   "encoding": {
    "x": {"datum": 103.4, "type": "quantitative", "scale": {"domain": [90, 105], "nice": false, "zero": false}, "axis": null},
    "y": {"datum": 9.51, "type": "quantitative", "scale": {"domain": [4, 10], "nice": false, "zero": false}, "axis": null},
    "text": {"field": "lab"}
   }}
 ]},
 {"width": 15, "height": 251, "data": {"name": "bar"},
  "title": {"text": "nC m⁻³(lnm)⁻¹", "fontSize": 11, "fontWeight": "normal", "font": "Liberation Sans", "anchor": "middle", "frame": "group", "dx": -9, "offset": 8, "color": "black"},
  "mark": {"type": "rect", "stroke": "black", "strokeWidth": 1},
  "encoding": {
   "y": {"field": "lo", "type": "quantitative", "scale": {"domain": [-0.112, 11.112], "nice": false, "zero": false}, "axis": {"orient": "right", "values": [1,2,3,4,5,6,7,8,9,10], "labelExpr": "['','-1.5','-1','-0.5','-0.1','-0.05','0.05','0.1','0.5','1','1.5'][datum.value]", "ticks": false, "tickSize": 0, "domain": false, "labelAlign": "center", "labelPadding": 14, "title": null}},
   "y2": {"field": "hi"},
   "color": {"field": "c", "type": "nominal", "legend": null, "scale": {"domain": ["<-1.5","-1.5~-1","-1~-0.5","-0.5~-0.1","-0.1~-0.05","-0.05~0.05","0.05~0.1","0.1~0.5","0.5~1","1~1.5",">1.5"], "range": ["#000000","#00A0E6","#00C8C8","#00DC00","#A0E632","#FFFFFF","#E6DC32","#E6AF2D","#F08228","#DC0064","#F00000"]}}
  }},
 {"width": 92.4, "height": 1, "data": {"values": [{"s": 0}]}, "mark": {"type": "rect", "opacity": 0}},
 {"width": 250, "height": 251, "resolve": {"axis": {"x": "independent", "y": "independent"}}, "layer": [
  {"data": {"name": "ct"}, "transform": [{"filter": "datum.p === 'b2' && datum.d === 1"}], "mark": {"type": "area", "interpolate": "monotone", "clip": true},
   "encoding": {
    "x": {"field": "x", "type": "quantitative", "scale": {"domain": [90, 105], "nice": false, "zero": false}, "axis": {"orient": "bottom", "values": [90, 93, 96, 99, 102, 105], "format": "d", "tickSize": 7, "labelPadding": 3, "title": "Graupel size", "titleX": -12, "titleY": 20, "titleAlign": "right", "titleBaseline": "alphabetic", "titleAngle": 0}},
    "y": {"field": "lo", "type": "quantitative", "stack": null, "scale": {"domain": [4, 10], "nice": false, "zero": false}, "axis": {"orient": "left", "values": [4, 5, 6, 7, 8, 9, 10], "format": ".1f", "tickSize": 7, "labelPadding": 4, "title": "Height (km)", "titleFontSize": 13.5, "titleX": -53, "titleY": 125.5, "titleAngle": -90, "titleAlign": "center", "titleBaseline": "middle"}},
    "y2": {"field": "hi"},
    "color": {"field": "c", "type": "nominal", "legend": null, "scale": {"domain": ["<-1.5","-1.5~-1","-1~-0.5","-0.5~-0.1","-0.1~-0.05","-0.05~0.05","0.05~0.1","0.1~0.5","0.5~1","1~1.5",">1.5"], "range": ["#000000","#00A0E6","#00C8C8","#00DC00","#A0E632","#FFFFFF","#E6DC32","#E6AF2D","#F08228","#DC0064","#F00000"]}},
    "detail": {"field": "r"}
   }},
  {"data": {"name": "ct"}, "transform": [{"filter": "datum.p === 'b2' && datum.d === 2"}], "mark": {"type": "area", "interpolate": "monotone", "clip": true},
   "encoding": {
    "x": {"field": "x", "type": "quantitative", "scale": {"domain": [90, 105], "nice": false, "zero": false}, "axis": {"orient": "bottom", "values": [91, 92, 94, 95, 97, 98, 100, 101, 103, 104], "tickSize": 4, "tickWidth": 1.5, "labels": false, "domain": false, "title": null}},
    "y": {"field": "lo", "type": "quantitative", "stack": null, "scale": {"domain": [4, 10], "nice": false, "zero": false}, "axis": {"orient": "left", "values": [4.2,4.4,4.6,4.8,5.2,5.4,5.6,5.8,6.2,6.4,6.6,6.8,7.2,7.4,7.6,7.8,8.2,8.4,8.6,8.8,9.2,9.4,9.6,9.8], "tickSize": 4, "tickWidth": 1.5, "labels": false, "domain": false, "title": null}},
    "y2": {"field": "hi"},
    "color": {"field": "c", "type": "nominal", "legend": null, "scale": {"domain": ["<-1.5","-1.5~-1","-1~-0.5","-0.5~-0.1","-0.1~-0.05","-0.05~0.05","0.05~0.1","0.1~0.5","0.5~1","1~1.5",">1.5"], "range": ["#000000","#00A0E6","#00C8C8","#00DC00","#A0E632","#FFFFFF","#E6DC32","#E6AF2D","#F08228","#DC0064","#F00000"]}},
    "detail": {"field": "r"}
   }},
  {"data": {"name": "ct"}, "transform": [{"filter": "datum.p === 'b2' && datum.d === 3"}], "mark": {"type": "area", "interpolate": "monotone", "clip": true},
   "encoding": {
    "x": {"field": "x", "type": "quantitative", "scale": {"domain": [90, 105], "nice": false, "zero": false}, "axis": {"orient": "top", "values": [90, 93, 96, 99, 102, 105], "tickSize": 7, "labels": false, "title": null}},
    "y": {"field": "lo", "type": "quantitative", "stack": null, "scale": {"domain": [4, 10], "nice": false, "zero": false}, "axis": {"orient": "right", "values": [4, 5, 6, 7, 8, 9, 10], "tickSize": 7, "labels": false, "title": null}},
    "y2": {"field": "hi"},
    "color": {"field": "c", "type": "nominal", "legend": null, "scale": {"domain": ["<-1.5","-1.5~-1","-1~-0.5","-0.5~-0.1","-0.1~-0.05","-0.05~0.05","0.05~0.1","0.1~0.5","0.5~1","1~1.5",">1.5"], "range": ["#000000","#00A0E6","#00C8C8","#00DC00","#A0E632","#FFFFFF","#E6DC32","#E6AF2D","#F08228","#DC0064","#F00000"]}},
    "detail": {"field": "r"}
   }},
  {"data": {"values": [{"lab": "b2"}]}, "mark": {"type": "rect", "fill": "white", "stroke": "black", "strokeWidth": 1},
   "encoding": {
    "x": {"datum": 102.32, "type": "quantitative", "scale": {"domain": [90, 105], "nice": false, "zero": false}, "axis": {"orient": "top", "values": [91, 92, 94, 95, 97, 98, 100, 101, 103, 104], "tickSize": 4, "tickWidth": 1.5, "labels": false, "domain": false, "title": null}},
    "x2": {"datum": 104.49},
    "y": {"datum": 9.14, "type": "quantitative", "scale": {"domain": [4, 10], "nice": false, "zero": false}, "axis": {"orient": "right", "values": [4.2,4.4,4.6,4.8,5.2,5.4,5.6,5.8,6.2,6.4,6.6,6.8,7.2,7.4,7.6,7.8,8.2,8.4,8.6,8.8,9.2,9.4,9.6,9.8], "tickSize": 4, "tickWidth": 1.5, "labels": false, "domain": false, "title": null}},
    "y2": {"datum": 9.88}
   }},
  {"data": {"values": [{"lab": "b2"}]}, "mark": {"type": "text", "fontSize": 20, "font": "Liberation Sans", "color": "black", "align": "center", "baseline": "middle"},
   "encoding": {
    "x": {"datum": 103.4, "type": "quantitative", "scale": {"domain": [90, 105], "nice": false, "zero": false}, "axis": null},
    "y": {"datum": 9.51, "type": "quantitative", "scale": {"domain": [4, 10], "nice": false, "zero": false}, "axis": null},
    "text": {"field": "lab"}
   }}
 ]},
 {"width": 15, "height": 251, "data": {"name": "bar"},
  "title": {"text": "nC m⁻³(lnm)⁻¹", "fontSize": 11, "fontWeight": "normal", "font": "Liberation Sans", "anchor": "middle", "frame": "group", "dx": -9, "offset": 8, "color": "black"},
  "mark": {"type": "rect", "stroke": "black", "strokeWidth": 1},
  "encoding": {
   "y": {"field": "lo", "type": "quantitative", "scale": {"domain": [-0.112, 11.112], "nice": false, "zero": false}, "axis": {"orient": "right", "values": [1,2,3,4,5,6,7,8,9,10], "labelExpr": "['','-1.5','-1','-0.5','-0.1','-0.05','0.05','0.1','0.5','1','1.5'][datum.value]", "ticks": false, "tickSize": 0, "domain": false, "labelAlign": "center", "labelPadding": 14, "title": null}},
   "y2": {"field": "hi"},
   "color": {"field": "c", "type": "nominal", "legend": null, "scale": {"domain": ["<-1.5","-1.5~-1","-1~-0.5","-0.5~-0.1","-0.1~-0.05","-0.05~0.05","0.05~0.1","0.1~0.5","0.5~1","1~1.5",">1.5"], "range": ["#000000","#00A0E6","#00C8C8","#00DC00","#A0E632","#FFFFFF","#E6DC32","#E6AF2D","#F08228","#DC0064","#F00000"]}}
  }},
 {"width": 92.4, "height": 1, "data": {"values": [{"s": 0}]}, "mark": {"type": "rect", "opacity": 0}},
 {"width": 250, "height": 251, "resolve": {"axis": {"x": "independent", "y": "independent"}}, "layer": [
  {"data": {"name": "ct"}, "transform": [{"filter": "datum.p === 'b3' && datum.d === 1"}], "mark": {"type": "area", "interpolate": "monotone", "clip": true},
   "encoding": {
    "x": {"field": "x", "type": "quantitative", "scale": {"domain": [90, 105], "nice": false, "zero": false}, "axis": {"orient": "bottom", "values": [90, 93, 96, 99, 102, 105], "format": "d", "tickSize": 7, "labelPadding": 3, "title": "Graupel size", "titleX": -12, "titleY": 20, "titleAlign": "right", "titleBaseline": "alphabetic", "titleAngle": 0}},
    "y": {"field": "lo", "type": "quantitative", "stack": null, "scale": {"domain": [4, 10], "nice": false, "zero": false}, "axis": {"orient": "left", "values": [4, 5, 6, 7, 8, 9, 10], "format": ".1f", "tickSize": 7, "labelPadding": 4, "title": "Height (km)", "titleFontSize": 13.5, "titleX": -53, "titleY": 125.5, "titleAngle": -90, "titleAlign": "center", "titleBaseline": "middle"}},
    "y2": {"field": "hi"},
    "color": {"field": "c", "type": "nominal", "legend": null, "scale": {"domain": ["<-1.5","-1.5~-1","-1~-0.5","-0.5~-0.1","-0.1~-0.05","-0.05~0.05","0.05~0.1","0.1~0.5","0.5~1","1~1.5",">1.5"], "range": ["#000000","#00A0E6","#00C8C8","#00DC00","#A0E632","#FFFFFF","#E6DC32","#E6AF2D","#F08228","#DC0064","#F00000"]}},
    "detail": {"field": "r"}
   }},
  {"data": {"name": "ct"}, "transform": [{"filter": "datum.p === 'b3' && datum.d === 2"}], "mark": {"type": "area", "interpolate": "monotone", "clip": true},
   "encoding": {
    "x": {"field": "x", "type": "quantitative", "scale": {"domain": [90, 105], "nice": false, "zero": false}, "axis": {"orient": "bottom", "values": [91, 92, 94, 95, 97, 98, 100, 101, 103, 104], "tickSize": 4, "tickWidth": 1.5, "labels": false, "domain": false, "title": null}},
    "y": {"field": "lo", "type": "quantitative", "stack": null, "scale": {"domain": [4, 10], "nice": false, "zero": false}, "axis": {"orient": "left", "values": [4.2,4.4,4.6,4.8,5.2,5.4,5.6,5.8,6.2,6.4,6.6,6.8,7.2,7.4,7.6,7.8,8.2,8.4,8.6,8.8,9.2,9.4,9.6,9.8], "tickSize": 4, "tickWidth": 1.5, "labels": false, "domain": false, "title": null}},
    "y2": {"field": "hi"},
    "color": {"field": "c", "type": "nominal", "legend": null, "scale": {"domain": ["<-1.5","-1.5~-1","-1~-0.5","-0.5~-0.1","-0.1~-0.05","-0.05~0.05","0.05~0.1","0.1~0.5","0.5~1","1~1.5",">1.5"], "range": ["#000000","#00A0E6","#00C8C8","#00DC00","#A0E632","#FFFFFF","#E6DC32","#E6AF2D","#F08228","#DC0064","#F00000"]}},
    "detail": {"field": "r"}
   }},
  {"data": {"name": "ct"}, "transform": [{"filter": "datum.p === 'b3' && datum.d === 3"}], "mark": {"type": "area", "interpolate": "monotone", "clip": true},
   "encoding": {
    "x": {"field": "x", "type": "quantitative", "scale": {"domain": [90, 105], "nice": false, "zero": false}, "axis": {"orient": "top", "values": [90, 93, 96, 99, 102, 105], "tickSize": 7, "labels": false, "title": null}},
    "y": {"field": "lo", "type": "quantitative", "stack": null, "scale": {"domain": [4, 10], "nice": false, "zero": false}, "axis": {"orient": "right", "values": [4, 5, 6, 7, 8, 9, 10], "tickSize": 7, "labels": false, "title": null}},
    "y2": {"field": "hi"},
    "color": {"field": "c", "type": "nominal", "legend": null, "scale": {"domain": ["<-1.5","-1.5~-1","-1~-0.5","-0.5~-0.1","-0.1~-0.05","-0.05~0.05","0.05~0.1","0.1~0.5","0.5~1","1~1.5",">1.5"], "range": ["#000000","#00A0E6","#00C8C8","#00DC00","#A0E632","#FFFFFF","#E6DC32","#E6AF2D","#F08228","#DC0064","#F00000"]}},
    "detail": {"field": "r"}
   }},
  {"data": {"values": [{"lab": "b3"}]}, "mark": {"type": "rect", "fill": "white", "stroke": "black", "strokeWidth": 1},
   "encoding": {
    "x": {"datum": 102.32, "type": "quantitative", "scale": {"domain": [90, 105], "nice": false, "zero": false}, "axis": {"orient": "top", "values": [91, 92, 94, 95, 97, 98, 100, 101, 103, 104], "tickSize": 4, "tickWidth": 1.5, "labels": false, "domain": false, "title": null}},
    "x2": {"datum": 104.49},
    "y": {"datum": 9.14, "type": "quantitative", "scale": {"domain": [4, 10], "nice": false, "zero": false}, "axis": {"orient": "right", "values": [4.2,4.4,4.6,4.8,5.2,5.4,5.6,5.8,6.2,6.4,6.6,6.8,7.2,7.4,7.6,7.8,8.2,8.4,8.6,8.8,9.2,9.4,9.6,9.8], "tickSize": 4, "tickWidth": 1.5, "labels": false, "domain": false, "title": null}},
    "y2": {"datum": 9.88}
   }},
  {"data": {"values": [{"lab": "b3"}]}, "mark": {"type": "text", "fontSize": 20, "font": "Liberation Sans", "color": "black", "align": "center", "baseline": "middle"},
   "encoding": {
    "x": {"datum": 103.4, "type": "quantitative", "scale": {"domain": [90, 105], "nice": false, "zero": false}, "axis": null},
    "y": {"datum": 9.51, "type": "quantitative", "scale": {"domain": [4, 10], "nice": false, "zero": false}, "axis": null},
    "text": {"field": "lab"}
   }}
 ]},
 {"width": 15, "height": 251, "data": {"name": "bar"},
  "title": {"text": "nC m⁻³(lnm)⁻¹", "fontSize": 11, "fontWeight": "normal", "font": "Liberation Sans", "anchor": "middle", "frame": "group", "dx": -9, "offset": 8, "color": "black"},
  "mark": {"type": "rect", "stroke": "black", "strokeWidth": 1},
  "encoding": {
   "y": {"field": "lo", "type": "quantitative", "scale": {"domain": [-0.112, 11.112], "nice": false, "zero": false}, "axis": {"orient": "right", "values": [1,2,3,4,5,6,7,8,9,10], "labelExpr": "['','-1.5','-1','-0.5','-0.1','-0.05','0.05','0.1','0.5','1','1.5'][datum.value]", "ticks": false, "tickSize": 0, "domain": false, "labelAlign": "center", "labelPadding": 14, "title": null}},
   "y2": {"field": "hi"},
   "color": {"field": "c", "type": "nominal", "legend": null, "scale": {"domain": ["<-1.5","-1.5~-1","-1~-0.5","-0.5~-0.1","-0.1~-0.05","-0.05~0.05","0.05~0.1","0.1~0.5","0.5~1","1~1.5",">1.5"], "range": ["#000000","#00A0E6","#00C8C8","#00DC00","#A0E632","#FFFFFF","#E6DC32","#E6AF2D","#F08228","#DC0064","#F00000"]}}
  }}
]
}
